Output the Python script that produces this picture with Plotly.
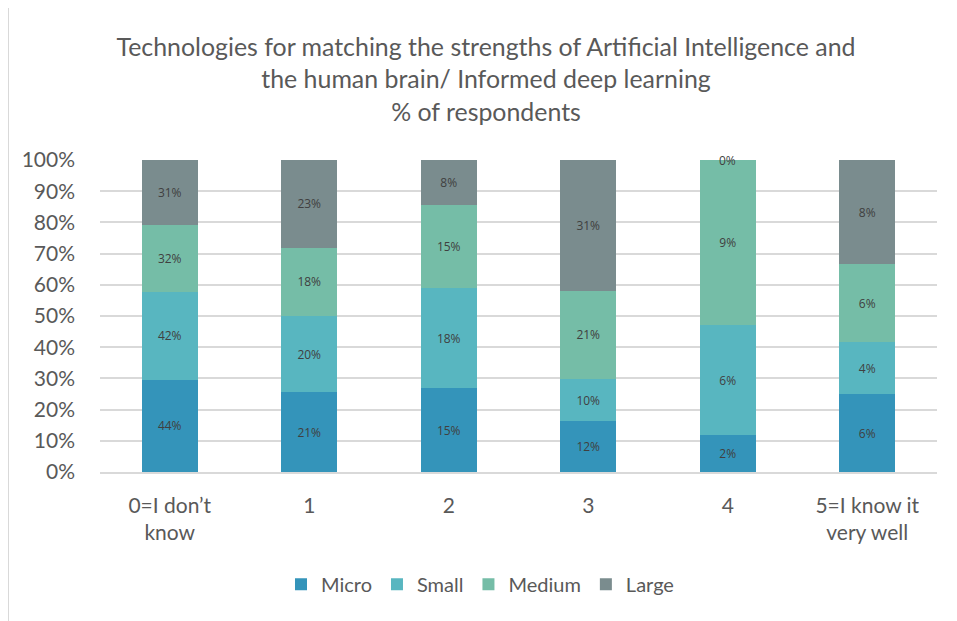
import plotly.graph_objects as go

categories = ["0=I don’t<br>know", "1", "2", "3", "4", "5=I know it<br>very well"]
micro = [44, 21, 15, 12, 2, 6]
small = [42, 20, 18, 10, 6, 4]
medium = [32, 18, 15, 21, 9, 6]
large = [31, 23, 8, 31, 0, 8]

series = [
    ("Micro", micro, "#3494BA"),
    ("Small", small, "#58B6C0"),
    ("Medium", medium, "#75BDA7"),
    ("Large", large, "#7A8C8E"),
]

FONT = "Lato, Open Sans, sans-serif"
LABEL_FONT = dict(size=12, color="#404040", family="Open Sans, sans-serif")

fig = go.Figure()
for name, vals, color in series:
    fig.add_trace(go.Bar(
        name=name, x=categories, y=vals,
        marker=dict(color=color, line=dict(width=0)),
        text=[f"{v}%" for v in vals],
        textposition="inside", insidetextanchor="middle",
        textfont=LABEL_FONT,
        constraintext="none",
        hoverinfo="skip",
    ))

# zero-height segments still get a label at the top of their stack
for name, vals, color in series:
    for i, v in enumerate(vals):
        if v == 0:
            fig.add_annotation(x=categories[i], y=100, text="0%", showarrow=False,
                               yanchor="middle", font=LABEL_FONT)

fig.update_layout(
    barmode="stack", barnorm="percent", bargap=0.6,
    width=957, height=621,
    paper_bgcolor="white", plot_bgcolor="white",
    margin=dict(l=92, r=28, t=152, b=157),
    title=dict(
        text="Technologies for matching the strengths of Artificial Intelligence and<br>"
             "the human brain/ Informed deep learning<br>% of respondents",
        x=0.4995, xanchor="center", y=0.923, yanchor="top",
        font=dict(size=24.9, color="#595959", family=FONT),
    ),
    font=dict(family=FONT, color="#595959"),
    legend=dict(orientation="h", x=0.454, xanchor="center", y=-0.36, yanchor="middle",
                font=dict(size=20, color="#595959"), traceorder="normal"),
    showlegend=True,
)
fig.update_yaxes(range=[0, 100], dtick=10, ticksuffix="%", gridcolor="#D9D9D9",
                 gridwidth=1.5, tickfont=dict(size=21, color="#595959"), zeroline=False,
                 showline=False, ticks="", ticklabelstandoff=24, automargin=False)
fig.update_xaxes(tickfont=dict(size=21, color="#595959"), showline=True,
                 linecolor="#D9D9D9", linewidth=1.5, ticks="", ticklabelstandoff=14,
                 automargin=False)
fig.add_shape(type="line", xref="paper", yref="paper", x0=-92 / 837, x1=-92 / 837,
              y0=-0.55, y1=1.6, line=dict(color="#D9D9D9", width=2))

fig.write_html("out.html")
